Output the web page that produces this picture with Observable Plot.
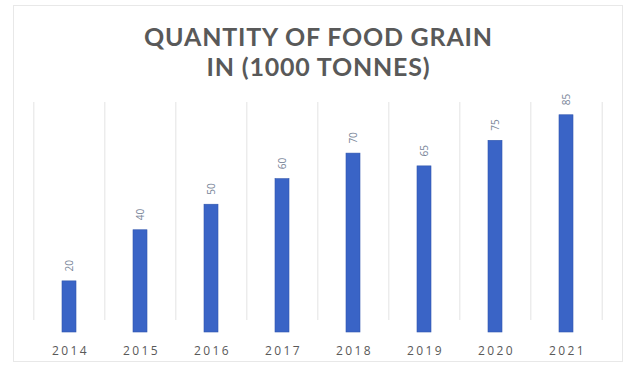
<!DOCTYPE html>
<html>
<head>
<meta charset="utf-8">
<script src="https://cdn.jsdelivr.net/npm/d3@7"></script>
<script src="https://cdn.jsdelivr.net/npm/@observablehq/plot@0.6"></script>
<style>
  html, body { margin: 0; padding: 0; background: #fff; }
  #wrap { position: relative; width: 637px; height: 378px; overflow: hidden; font-family: "Open Sans", sans-serif; }
  #border { position: absolute; left: 13px; top: 5px; width: 610px; height: 357px; border: 1px solid #e8e8e8; box-sizing: border-box; }
  .title { position: absolute; left: 0; width: 637px; text-align: center; font-family: Lato, "Open Sans", sans-serif; font-weight: 700; font-size: 25px; line-height: 30px; height: 30px; color: #595959; letter-spacing: 0.8px; white-space: nowrap; }
  #t1 { top: 21px; }
  #t2 { top: 51px; }
  #chart { position: absolute; left: 0; top: 0; }
  #chart g[aria-label="x-axis tick label"] text { letter-spacing: 2.4px; }
</style>
</head>
<body>
<div id="wrap">
  <div id="border"></div>
  <div id="chart"></div>
  <div class="title" id="t1">QUANTITY OF FOOD GRAIN</div>
  <div class="title" id="t2">IN (1000 TONNES)</div>
</div>
<script>
const years = ["2014", "2015", "2016", "2017", "2018", "2019", "2020", "2021"];
const values = [20, 40, 50, 60, 70, 65, 75, 85];

const data = years.map((year, i) => ({year, value: values[i]}));

const W = 637, H = 378;
const mL = 32, mR = 34, mT = 102, mB = 46;
const step = (W - mL - mR) / years.length;

const plot = Plot.plot({
  width: W,
  height: H,
  marginLeft: mL,
  marginRight: mR,
  marginTop: mT,
  marginBottom: mB,
  style: {fontFamily: "Open Sans, sans-serif", background: "transparent", overflow: "visible"},
  x: {domain: years, paddingInner: 0.8, paddingOuter: 0.4, label: null},
  y: {domain: [0, 90], axis: null},
  marks: [
    Plot.ruleX(years, {x: d => d, dx: -step / 2, stroke: "#e3e3e3", strokeWidth: 1, insetBottom: 12}),
    Plot.ruleX([years[years.length - 1]], {x: d => d, dx: step / 2, stroke: "#e3e3e3", strokeWidth: 1, insetBottom: 12}),
    Plot.barY(data, {x: "year", y: "value", fill: "#3a64c6", stroke: "#2f55ad", strokeWidth: 0.6}),
    Plot.text(data, {
      x: "year", y: "value", text: d => String(d.value),
      rotate: -90, textAnchor: "start", lineAnchor: "middle",
      dy: -10, fontSize: 10, fill: "#7a8699"
    }),
    Plot.axisX({
      tickSize: 0, tickPadding: 14, fontSize: 12, fill: "#595959", dx: 1
    })
  ]
});
document.getElementById("chart").appendChild(plot);
</script>
</body>
</html>
